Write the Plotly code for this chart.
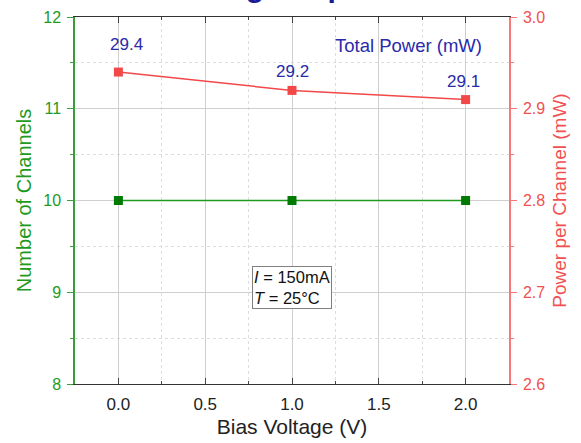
import plotly.graph_objects as go

bias_voltage = [0.0, 1.0, 2.0]
num_channels = [10, 10, 10]
power_per_channel = [2.94, 2.92, 2.91]
total_power_labels = ["29.4", "29.2", "29.1"]

GREEN_LINE = "#1e9a1e"
GREEN_MARK = "#007a00"
GREEN_AX = "#3c9c3c"
RED = "#f24848"
RED_AX = "#f87878"
BLUE = "#2a2aaa"
FONT = "Liberation Sans, Arial, sans-serif"

fig = go.Figure()
fig.add_trace(go.Scatter(
    x=bias_voltage, y=num_channels, mode="lines+markers",
    line=dict(color=GREEN_LINE, width=1.5),
    marker=dict(symbol="square", size=9, color=GREEN_MARK),
    showlegend=False, yaxis="y"))
fig.add_trace(go.Scatter(
    x=bias_voltage, y=power_per_channel, mode="lines+markers",
    line=dict(color=RED, width=1.5),
    marker=dict(symbol="square", size=9, color=RED),
    showlegend=False, yaxis="y2"))

yshifts = [28, 19, 18]
xshifts = [8, 0, -2]
for xv, yv, lab, ys, xs in zip(bias_voltage, power_per_channel, total_power_labels, yshifts, xshifts):
    fig.add_annotation(x=xv, y=yv, xref="x", yref="y2", text=lab, showarrow=False,
                       yshift=ys, xshift=xs, font=dict(family=FONT, size=17, color=BLUE))

fig.add_annotation(x=0.769, y=0.921, xref="paper", yref="paper", text="Total Power (mW)",
                   showarrow=False, xanchor="center", yanchor="middle",
                   font=dict(family=FONT, size=18.5, color=BLUE))

fig.add_annotation(x=1.0, y=9.05, xref="x", yref="y",
                   text="<i>I</i> = 150mA<br><i>T</i> = 25°C", showarrow=False,
                   align="left", bordercolor="#808080", borderwidth=1, borderpad=1,
                   bgcolor="white", font=dict(family=FONT, size=16.5, color="#111111"))

fig.add_annotation(x=0.484, y=1, xref="paper", yref="paper",
                   text="<b>Bias Voltage Dependence</b>", showarrow=False,
                   xanchor="center", yanchor="bottom", yshift=12,
                   font=dict(family=FONT, size=30, color="#1a1a96"))

fig.update_layout(
    width=581, height=443,
    margin=dict(l=75, r=72, t=17, b=59),
    paper_bgcolor="white", plot_bgcolor="white",
    font=dict(family=FONT),
    xaxis=dict(
        range=[-0.25, 2.25], dtick=0.5, tick0=0, tickformat=".1f", automargin=False,
        showline=True, linecolor="#333333", linewidth=1.2, mirror="ticks",
        ticks="inside", ticklen=6, tickcolor="#444444",
        showgrid=True, gridcolor="#cfcfcf", gridwidth=1.2,
        zeroline=False,
        tickfont=dict(size=17, color="#222222"), ticklabelstandoff=4,
        title=dict(text="Bias Voltage (V)", font=dict(size=21, color="#222222"), standoff=6),
        minor=dict(dtick=0.25, tick0=0, showgrid=True, gridcolor="#dddddd",
                   griddash="dot", ticks="inside", ticklen=3, tickcolor="#444444"),
    ),
    yaxis=dict(
        range=[8, 12], dtick=1, automargin=False,
        showline=True, linecolor=GREEN_AX, linewidth=1.5,
        ticks="outside", ticklen=6, tickcolor=GREEN_AX,
        showgrid=True, gridcolor="#cfcfcf", gridwidth=1.2, zeroline=False,
        tickfont=dict(size=16, color="#1e9a1e"), ticklabelstandoff=3,
        title=dict(text="Number of Channels", font=dict(size=20, color="#1e9a1e"), standoff=6),
        minor=dict(dtick=0.5, showgrid=True, gridcolor="#dddddd", griddash="dot",
                   ticks="outside", ticklen=3, tickcolor=GREEN_AX),
    ),
    yaxis2=dict(
        range=[2.6, 3.0], dtick=0.1, tickformat=".1f", overlaying="y", side="right",
        automargin=False,
        showline=True, linecolor=RED_AX, linewidth=1.5,
        ticks="outside", ticklen=6, tickcolor=RED_AX,
        showgrid=False, zeroline=False,
        tickfont=dict(size=16, color="#f25050"), ticklabelstandoff=3,
        title=dict(text="Power per Channel (mW)", font=dict(size=19, color="#f25050"), standoff=8),
        minor=dict(dtick=0.05, ticks="outside", ticklen=3, tickcolor=RED_AX),
    ),
)

fig.write_html("out.html", config={"displayModeBar": False},
               post_script="document.body.style.margin='0';")
